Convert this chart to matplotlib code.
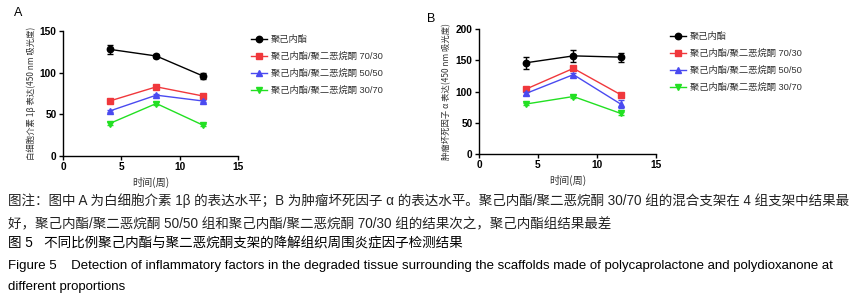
import numpy as np
import matplotlib
matplotlib.use("Agg")
import matplotlib.pyplot as plt

plt.rcParams['font.family'] = ['Liberation Sans', 'Noto Sans CJK SC', 'DejaVu Sans']

weeks = [4, 8, 12]
groups = ['聚己内酯', '聚己内酯/聚二恶烷酮 70/30',
          '聚己内酯/聚二恶烷酮 50/50', '聚己内酯/聚二恶烷酮 30/70']

# panel A: IL-1beta
il1_mean = [[128, 120, 96], [66, 83, 72], [54, 73, 66], [39, 63, 37]]
il1_err = [[5, 2.5, 4], [1.5, 1.5, 1.5], [1.5, 1.5, 1.5], [1.5, 1.5, 1.5]]
# panel B: TNF-alpha
tnf_mean = [[146, 157, 155], [104, 137, 95], [97, 127, 80], [80, 92, 65]]
tnf_err = [[10, 9, 7], [2, 3, 2], [2, 2, 6], [2, 2, 2]]

colors = ['#000000', '#f0383c', '#4a4af0', '#22e022']
markers = ['o', 's', '^', 'v']

fig = plt.figure(figsize=(8.62, 3.0), dpi=100)
W, H = 862, 300
cjk = ['Noto Sans CJK SC', 'DejaVu Sans']


def px_axes(l, t, r, b):
    return fig.add_axes([l / W, 1 - b / H, (r - l) / W, (b - t) / H])


def draw(ax, means, errs, ymax, ystep, ylabel):
    for m, e, c, mk, lab in zip(means, errs, colors, markers, groups):
        ax.errorbar(weeks, m, yerr=e, color=c, fmt='none',
                    elinewidth=1.0, capsize=2.2, capthick=1.0)
        ax.plot(weeks, m, color=c, marker=mk, markersize=4.6, lw=1.0, label=lab)
    ax.set_xlim(0, 15)
    ax.set_ylim(0, ymax)
    ax.set_xticks([0, 5, 10, 15])
    ax.set_yticks(np.arange(0, ymax + 1, ystep))
    for s in ['top', 'right']:
        ax.spines[s].set_visible(False)
    for s in ['left', 'bottom']:
        ax.spines[s].set_linewidth(1.0)
    ax.tick_params(labelsize=7.3, width=1.0, length=3, pad=1.5)
    for t in ax.get_xticklabels() + ax.get_yticklabels():
        t.set_fontweight('bold')
    ax.set_xlabel('时间(周)', fontsize=7.3, color='#333333', labelpad=3,
                  family=cjk)
    ax.set_ylabel(ylabel, fontsize=6.0, color='#333333', labelpad=3,
                  family=cjk)


axA = px_axes(63, 31, 238, 156)
draw(axA, il1_mean, il1_err, 150, 50, '白细胞介素 1β 表达(450 nm 吸光度)')
axB = px_axes(479, 29, 656, 154)
draw(axB, tnf_mean, tnf_err, 200, 50, '肿瘤坏死因子 α 表达(450 nm 吸光度)')

for ax, x0, y0 in [(axA, 247, 31), (axB, 666, 28)]:
    leg = ax.legend(loc='upper left', bbox_to_anchor=(x0 / W, 1 - y0 / H),
                    bbox_transform=fig.transFigure, frameon=False,
                    fontsize=6.7, handlelength=1.7, handletextpad=0.5,
                    labelspacing=0.85, borderaxespad=0)
    for t in leg.get_texts():
        t.set_color('#333333')
        t.set_family(['Liberation Sans', 'Noto Sans CJK SC'])

fig.text(14 / W, 1 - 13 / H, 'A', fontsize=9, va='center', ha='left')
fig.text(427 / W, 1 - 19 / H, 'B', fontsize=9, va='center', ha='left')

cap_font = ['Liberation Sans', 'Noto Sans CJK SC']
fig.text(8 / W, 1 - 201 / H,
         '图注：图中 A 为白细胞介素 1β 的表达水平；B 为肿瘤坏死因子 α 的表达水平。聚己内酯/聚二恶烷酮 30/70 组的混合支架在 4 组支架中结果最',
         fontsize=9.75, va='center', ha='left', color='#222222', family=cap_font)
fig.text(8 / W, 1 - 224 / H,
         '好，聚己内酯/聚二恶烷酮 50/50 组和聚己内酯/聚二恶烷酮 70/30 组的结果次之，聚己内酯组结果最差',
         fontsize=9.75, va='center', ha='left', color='#222222', family=cap_font)
fig.text(8 / W, 1 - 244 / H,
         '图 5   不同比例聚己内酯与聚二恶烷酮支架的降解组织周围炎症因子检测结果',
         fontsize=9.75, va='center', ha='left', color='#000000', family=cap_font)
fig.text(8 / W, 1 - 266 / H,
         'Figure 5    Detection of inflammatory factors in the degraded tissue surrounding the scaffolds made of polycaprolactone and polydioxanone at',
         fontsize=9.55, va='center', ha='left', color='#000000', family=cap_font)
fig.text(8 / W, 1 - 287 / H, 'different proportions',
         fontsize=9.55, va='center', ha='left', color='#000000', family=cap_font)

fig.savefig('out.png', dpi=100)
